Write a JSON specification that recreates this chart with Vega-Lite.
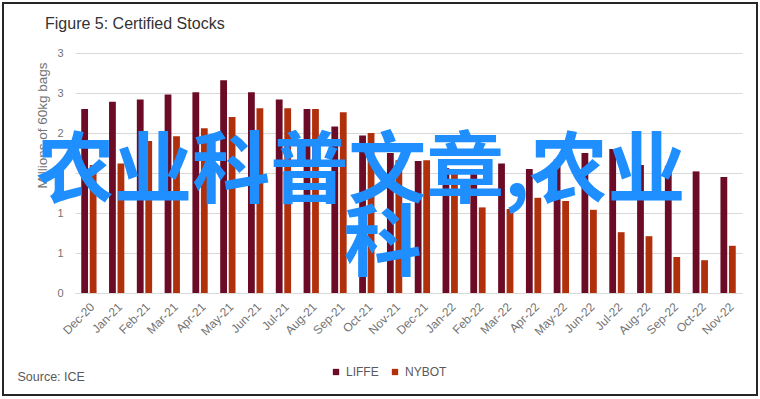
{
  "$schema": "https://vega.github.io/schema/vega-lite/v6.json",
  "width": 754,
  "height": 392,
  "autosize": {"type": "none"},
  "padding": {"left": 3, "top": 3, "right": 3, "bottom": 4},
  "background": "white",
  "config": {
    "font": "Liberation Sans",
    "view": {"stroke": "#262626", "strokeWidth": 2}
  },
  "title": {
    "text": "Figure 5: Certified Stocks",
    "anchor": "start",
    "frame": "group",
    "dx": 42,
    "offset": -29,
    "fontSize": 16,
    "fontWeight": "normal",
    "color": "#333333"
  },
  "datasets": {
    "stocks": [
      {"month": "Dec-20", "series": "LIFFE", "value": 2.30},
      {"month": "Jan-21", "series": "LIFFE", "value": 2.39},
      {"month": "Feb-21", "series": "LIFFE", "value": 2.42},
      {"month": "Mar-21", "series": "LIFFE", "value": 2.48},
      {"month": "Apr-21", "series": "LIFFE", "value": 2.51},
      {"month": "May-21", "series": "LIFFE", "value": 2.66},
      {"month": "Jun-21", "series": "LIFFE", "value": 2.51},
      {"month": "Jul-21", "series": "LIFFE", "value": 2.42},
      {"month": "Aug-21", "series": "LIFFE", "value": 2.30},
      {"month": "Sep-21", "series": "LIFFE", "value": 2.08},
      {"month": "Oct-21", "series": "LIFFE", "value": 1.97},
      {"month": "Nov-21", "series": "LIFFE", "value": 1.75},
      {"month": "Dec-21", "series": "LIFFE", "value": 1.65},
      {"month": "Jan-22", "series": "LIFFE", "value": 1.56},
      {"month": "Feb-22", "series": "LIFFE", "value": 1.53},
      {"month": "Mar-22", "series": "LIFFE", "value": 1.62},
      {"month": "Apr-22", "series": "LIFFE", "value": 1.55},
      {"month": "May-22", "series": "LIFFE", "value": 1.67},
      {"month": "Jun-22", "series": "LIFFE", "value": 1.75},
      {"month": "Jul-22", "series": "LIFFE", "value": 1.80},
      {"month": "Aug-22", "series": "LIFFE", "value": 1.60},
      {"month": "Sep-22", "series": "LIFFE", "value": 1.59},
      {"month": "Oct-22", "series": "LIFFE", "value": 1.52},
      {"month": "Nov-22", "series": "LIFFE", "value": 1.45},
      {"month": "Dec-20", "series": "NYBOT", "value": 1.60},
      {"month": "Jan-21", "series": "NYBOT", "value": 1.62},
      {"month": "Feb-21", "series": "NYBOT", "value": 1.90},
      {"month": "Mar-21", "series": "NYBOT", "value": 1.96},
      {"month": "Apr-21", "series": "NYBOT", "value": 2.06},
      {"month": "May-21", "series": "NYBOT", "value": 2.20},
      {"month": "Jun-21", "series": "NYBOT", "value": 2.31},
      {"month": "Jul-21", "series": "NYBOT", "value": 2.31},
      {"month": "Aug-21", "series": "NYBOT", "value": 2.30},
      {"month": "Sep-21", "series": "NYBOT", "value": 2.26},
      {"month": "Oct-21", "series": "NYBOT", "value": 2.00},
      {"month": "Nov-21", "series": "NYBOT", "value": 1.66},
      {"month": "Dec-21", "series": "NYBOT", "value": 1.66},
      {"month": "Jan-22", "series": "NYBOT", "value": 1.55},
      {"month": "Feb-22", "series": "NYBOT", "value": 1.07},
      {"month": "Mar-22", "series": "NYBOT", "value": 1.05},
      {"month": "Apr-22", "series": "NYBOT", "value": 1.19},
      {"month": "May-22", "series": "NYBOT", "value": 1.15},
      {"month": "Jun-22", "series": "NYBOT", "value": 1.04},
      {"month": "Jul-22", "series": "NYBOT", "value": 0.76},
      {"month": "Aug-22", "series": "NYBOT", "value": 0.71},
      {"month": "Sep-22", "series": "NYBOT", "value": 0.45},
      {"month": "Oct-22", "series": "NYBOT", "value": 0.41},
      {"month": "Nov-22", "series": "NYBOT", "value": 0.59}
    ],
    "wm1": [{"month": "Oct-21", "value": 1.49, "label": "农业科普文章,农业"}],
    "wm2": [{"month": "Oct-21", "value": 0.57, "label": "科"}]
  },
  "layer": [
    {
      "data": {"name": "stocks"},
      "mark": {"type": "bar"},
      "encoding": {
        "x": {
          "field": "month",
          "type": "nominal",
          "sort": null,
          "scale": {
            "domain": ["Dec-20","Jan-21","Feb-21","Mar-21","Apr-21","May-21","Jun-21","Jul-21","Aug-21","Sep-21","Oct-21","Nov-21","Dec-21","Jan-22","Feb-22","Mar-22","Apr-22","May-22","Jun-22","Jul-22","Aug-22","Sep-22","Oct-22","Nov-22"],
            "range": [72, 739],
            "paddingInner": 0.45,
            "paddingOuter": 0.225
          },
          "axis": {
            "offset": -102,
            "title": "Source: ICE",
            "titleX": 14,
            "titleY": 87,
            "titleAlign": "left",
            "titleAnchor": "start",
            "titleBaseline": "alphabetic",
            "titleFontSize": 12.5,
            "titleFontWeight": "normal",
            "titleColor": "#595959",
            "labelAngle": -45,
            "labelFontSize": 12,
            "labelColor": "#737373",
            "labelPadding": 8,
            "ticks": false,
            "domain": true,
            "domainColor": "#d9d9d9",
            "grid": false
          }
        },
        "xOffset": {
          "field": "series",
          "type": "nominal",
          "sort": ["LIFFE", "NYBOT"],
          "scale": {"paddingInner": 0.2}
        },
        "y": {
          "field": "value",
          "type": "quantitative",
          "scale": {"domain": [0, 3], "nice": false, "range": [290, 50]},
          "axis": {
            "offset": -72,
            "title": "Millions of 60kg bags",
            "titleFontSize": 13.5,
            "titleFontWeight": "normal",
            "titleColor": "#737373",
            "titleAnchor": "middle",
            "titleAlign": "center",
            "titleY": 122,
            "titlePadding": 7,
            "values": [0, 0.5, 1, 1.5, 2, 2.5, 3],
            "format": ".0f",
            "labelFontSize": 11,
            "labelColor": "#737373",
            "labelPadding": 12,
            "ticks": false,
            "domain": false,
            "grid": true,
            "gridColor": "#d9d9d9"
          }
        },
        "color": {
          "field": "series",
          "type": "nominal",
          "scale": {"domain": ["LIFFE", "NYBOT"], "range": ["#6B0B25", "#B0300C"]},
          "legend": {
            "title": null,
            "orient": "none",
            "direction": "horizontal",
            "legendX": 327,
            "legendY": 363,
            "padding": 0,
            "symbolType": "square",
            "symbolSize": 40,
            "symbolStrokeWidth": 0,
            "labelFontSize": 12,
            "labelColor": "#595959",
            "labelOffset": 4,
            "columnPadding": 10
          }
        }
      }
    },
    {
      "data": {"name": "wm1"},
      "mark": {"type": "text", "font": "Noto Sans CJK SC", "fontWeight": "bold", "fontSize": 78, "color": "#1F8FFF", "align": "center", "baseline": "middle", "dx": -6},
      "encoding": {
        "x": {"field": "month", "type": "nominal"},
        "y": {"field": "value", "type": "quantitative"},
        "text": {"field": "label"}
      }
    },
    {
      "data": {"name": "wm2"},
      "mark": {"type": "text", "font": "Noto Sans CJK SC", "fontWeight": "bold", "fontSize": 78, "color": "#1F8FFF", "align": "center", "baseline": "middle", "dx": 16},
      "encoding": {
        "x": {"field": "month", "type": "nominal"},
        "y": {"field": "value", "type": "quantitative"},
        "text": {"field": "label"}
      }
    }
  ]
}
